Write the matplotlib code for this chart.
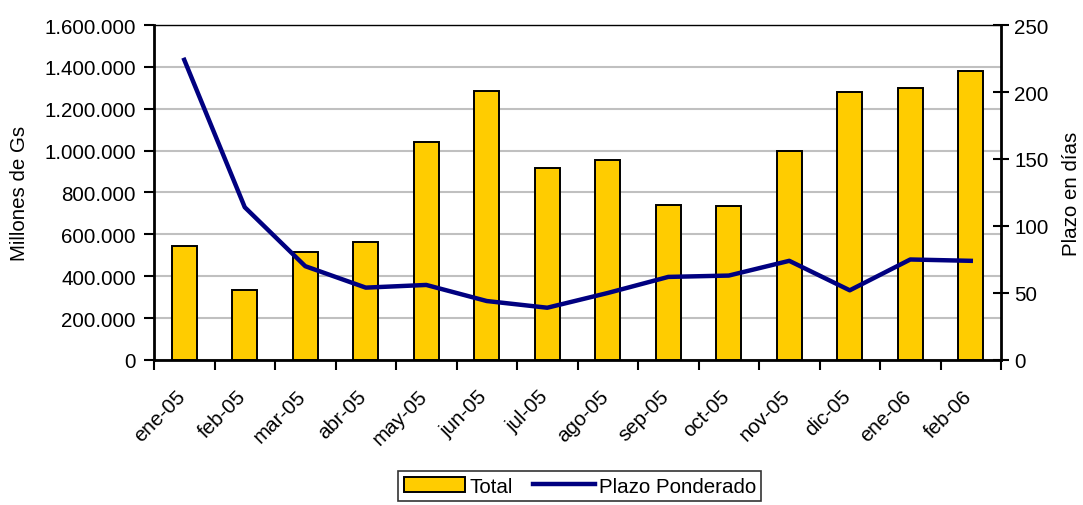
import numpy as np
import matplotlib
matplotlib.use("Agg")
import matplotlib.pyplot as plt
from matplotlib.patches import Patch
from matplotlib.lines import Line2D
from matplotlib.ticker import FuncFormatter
import matplotlib.transforms as mtransforms

plt.rcParams['font.family'] = ['Liberation Sans', 'DejaVu Sans']

# data
months = ['ene-05', 'feb-05', 'mar-05', 'abr-05', 'may-05', 'jun-05', 'jul-05',
          'ago-05', 'sep-05', 'oct-05', 'nov-05', 'dic-05', 'ene-06', 'feb-06']
total = [543000, 333000, 514000, 563000, 1042000, 1283000, 917000,
         954000, 740000, 736000, 999000, 1282000, 1299000, 1380000]
plazo = [224, 114, 70, 54, 56, 44, 39, 50, 62, 63, 74, 52, 75, 74]

bar_color = '#FFCC00'
line_color = '#000080'
fs = 14.8

fig = plt.figure(figsize=(10.83, 5.06), dpi=100)
ax = fig.add_axes([0.1422, 0.2866, 0.7821, 0.6620])
x = np.arange(len(months))

ax.bar(x, total, width=0.42, color=bar_color, edgecolor='black', linewidth=1.4, zorder=3)
ax.set_xlim(-0.5, len(months) - 0.5)
ax.set_ylim(0, 1600000)
ax.set_yticks(np.arange(0, 1600001, 200000))
ax.yaxis.set_major_formatter(FuncFormatter(lambda v, p: f"{int(v):,}".replace(',', '.')))
ax.grid(axis='y', color='#C0C0C0', linewidth=1.5, zorder=0)
ax.set_axisbelow(True)
ax.set_ylabel('Millones de Gs', fontsize=fs, labelpad=11)
ax.tick_params(axis='y', labelsize=fs, direction='out', length=7, width=1.5, pad=6)

# ticks between categories, labels at category centres
ax.set_xticks(np.arange(-0.5, len(months), 1))
ax.set_xticklabels([])
ax.tick_params(axis='x', which='major', direction='out', length=7, width=1.5)
ax.set_xticks(x, minor=True)
ax.set_xticklabels(months, minor=True, rotation=45, ha='right', va='top',
                   rotation_mode='anchor', fontsize=fs)
ax.tick_params(axis='x', which='minor', length=0, pad=19)
offset = mtransforms.ScaledTranslation(-9 / 100, 0, fig.dpi_scale_trans)
for lab in ax.get_xticklabels(minor=True):
    lab.set_transform(lab.get_transform() + offset)

for side in ['left', 'bottom']:
    ax.spines[side].set_linewidth(2)
ax.spines['top'].set_linewidth(1)
ax.spines['right'].set_visible(False)

ax2 = ax.twinx()
ax2.plot(x, plazo, color=line_color, linewidth=3.2, zorder=4)
ax2.set_ylim(0, 250)
ax2.set_yticks(np.arange(0, 251, 50))
ax2.set_ylabel('Plazo en días', fontsize=fs, labelpad=10)
ax2.tick_params(axis='y', labelsize=fs, direction='inout', length=12, width=1.5)
ax2.spines['right'].set_linewidth(2)
for side in ['left', 'bottom', 'top']:
    ax2.spines[side].set_visible(False)

handles = [Patch(facecolor=bar_color, edgecolor='black', linewidth=1.4),
           Line2D([], [], color=line_color, linewidth=3.2)]
leg = fig.legend(handles, ['Total', 'Plazo Ponderado'], loc='center',
                 bbox_to_anchor=(0.5355, 0.0375), ncol=2, fontsize=fs,
                 frameon=True, fancybox=False, handlelength=3.0,
                 handletextpad=0.2, columnspacing=1.0, borderpad=0.25,
                 borderaxespad=0)
leg.get_frame().set_edgecolor('black')
leg.get_frame().set_linewidth(1.2)

fig.savefig('out.png', dpi=100)
